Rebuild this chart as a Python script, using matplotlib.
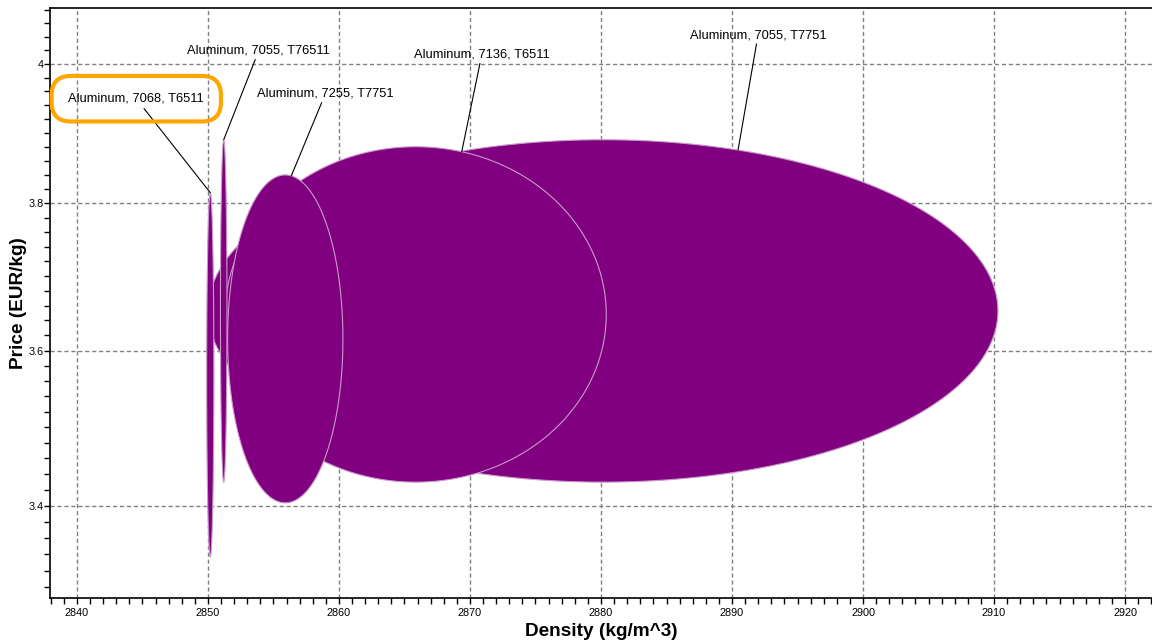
import numpy as np
import matplotlib
matplotlib.use('Agg')
import matplotlib.pyplot as plt
from matplotlib.ticker import MultipleLocator, FixedLocator, NullFormatter, FuncFormatter

plt.rcParams['font.family'] = ['Liberation Sans', 'DejaVu Sans']

# property ranges for each record
names = ['Aluminum, 7055, T7751', 'Aluminum, 7136, T6511', 'Aluminum, 7255, T7751',
         'Aluminum, 7055, T76511', 'Aluminum, 7068, T6511']
dens_lo = [2850.0, 2851.3, 2851.5, 2850.95, 2849.9]
dens_hi = [2910.3, 2880.4, 2860.3, 2851.45, 2850.45]
price_lo = [3.43, 3.43, 3.404, 3.43, 3.337]
price_hi = [3.89, 3.88, 3.84, 3.89, 3.815]

# where the leader line touches the bubble (angle in degrees) and label offset in pixels
lead_angle = [70, 76, 84, 90, 90]
label_off = [(20, 115), (20, 97), (34, 82), (35, 89), (-74, 94)]

fig = plt.figure(figsize=(11.52, 6.44), dpi=100)
ax = fig.add_axes([50/1152, 46/644, 1 - 50/1152, (598 - 8)/644])
ax.set_yscale('log')
ax.set_xlim(2837.94, 2922.06)
ax.set_ylim(3.287, 4.083)

t = np.linspace(0, 2*np.pi, 400)
for i in range(len(names)):
    cx = (dens_lo[i] + dens_hi[i]) / 2
    a = (dens_hi[i] - dens_lo[i]) / 2
    cl = (np.log10(price_lo[i]) + np.log10(price_hi[i])) / 2
    b = (np.log10(price_hi[i]) - np.log10(price_lo[i])) / 2
    ax.fill(cx + a*np.cos(t), 10**(cl + b*np.sin(t)), facecolor='#800080',
            edgecolor='#c99ac9', linewidth=0.8, zorder=2 + i*0.1)

    ang = np.radians(lead_angle[i])
    px = cx + a*np.cos(ang)
    py = 10**(cl + b*np.sin(ang))
    arrow = dict(arrowstyle='-', color='black', lw=0.8, shrinkA=0, shrinkB=0)
    kw = {}
    if names[i] == 'Aluminum, 7068, T6511':
        arrow['patchA'] = None
        arrow['shrinkA'] = 9
        kw['bbox'] = dict(boxstyle='round,pad=1.3,rounding_size=1.5', fc='none',
                          ec='#ffa500', lw=3)
    ax.annotate(names[i], xy=(px, py), xytext=label_off[i], textcoords='offset pixels',
                ha='center', va='center', fontsize=9.3, arrowprops=arrow, zorder=5, **kw)

ax.xaxis.set_major_locator(MultipleLocator(10))
ax.xaxis.set_minor_locator(MultipleLocator(1))
ax.yaxis.set_major_locator(FixedLocator([3.4, 3.6, 3.8, 4.0]))
ax.yaxis.set_minor_locator(FixedLocator(np.arange(3.28, 4.1, 0.02)))
ax.yaxis.set_major_formatter(FuncFormatter(lambda v, p: '%g' % v))
ax.yaxis.set_minor_formatter(NullFormatter())

ax.tick_params(which='both', direction='out', length=4, width=1, labelsize=7.8, pad=3)
ax.tick_params(axis='y', which='both', pad=0.5)
ax.grid(True, which='major', color='#808080', linestyle=(0, (3, 2)), linewidth=1, zorder=0)
ax.set_axisbelow(True)

for s in ['left', 'bottom', 'top']:
    ax.spines[s].set_linewidth(1.2)
ax.spines['right'].set_visible(False)

ax.set_xlabel('Density (kg/m^3)', fontsize=13.7, fontweight='bold', labelpad=4)
ax.set_ylabel('Price (EUR/kg)', fontsize=13.7, fontweight='bold')
ax.yaxis.set_label_coords(-0.021, 0.5)

fig.savefig('out.png', dpi=100)
